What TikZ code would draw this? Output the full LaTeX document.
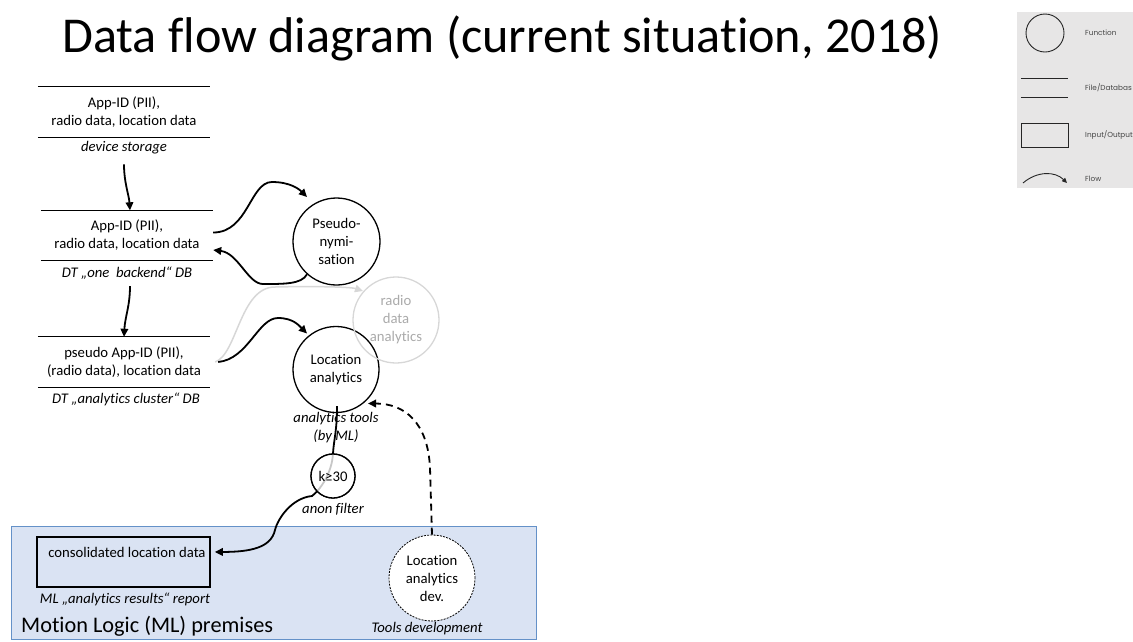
\documentclass[tikz,border=0pt]{standalone}
\usepackage{fontspec}
\setmainfont{Carlito}[Ligatures=NoCommon]
\newfontfamily\legendfont{Poppins}
\usetikzlibrary{arrows.meta}
\definecolor{premisesfill}{RGB}{218,227,243}
\definecolor{premisesline}{RGB}{100,145,200}
\definecolor{legendfill}{RGB}{231,230,230}
\definecolor{faded}{RGB}{215,215,215}
\definecolor{fadedtext}{RGB}{170,170,170}
\definecolor{legendtext}{RGB}{70,70,70}

\begin{document}
\begin{tikzpicture}[x=1pt,y=-1pt,
  txt/.style={inner sep=0pt, align=center, font=\fontsize{14.7}{18}\selectfont},
  itxt/.style={txt, font=\fontsize{14.7}{18}\selectfont\itshape},
  store/.style={txt, minimum width=172pt, minimum height=50pt},
  storeline/.style={line width=1.1pt},
  func/.style={circle, draw, line width=1.3pt, fill=white, inner sep=0pt,
    minimum size=86pt, align=center, font=\fontsize{14.7}{18}\selectfont},
  flow/.style={line width=1.8pt, -{Triangle[length=8pt,width=7.5pt]}},
  fadedflow/.style={flow, draw=faded, line width=1.5pt},
  devflow/.style={flow, dash pattern=on 7pt off 5pt},
  legtxt/.style={inner sep=0pt, font=\legendfont\fontsize{7.3}{8}\selectfont, text=legendtext},
  legshape/.style={line width=0.9pt, draw=black!85}
]
\useasboundingbox (0,0) rectangle (1133,641);

% heading
\node[anchor=base west, inner sep=0pt, font=\fontsize{50.2}{60}\selectfont] (title)
  at (62,52.5) {Data flow diagram (current situation, 2018)};

% data stores
\node[store] (s1) at (124,112) {App-ID (PII),\\radio data, location data};
\draw[storeline] (s1.north west) -- (s1.north east) (s1.south west) -- (s1.south east);
\node[itxt, anchor=base] (s1lab) at (124,151.7) {device storage};

\node[store] (s2) at (127,235.5) {App-ID (PII),\\radio data, location data};
\draw[storeline] (s2.north west) -- (s2.north east) (s2.south west) -- (s2.south east);
\node[itxt, anchor=base] (s2lab) at (127,277) {DT „one~ backend“ DB};

\node[store] (s3) at (124,362) {pseudo App-ID (PII),\\(radio data), location data};
\draw[storeline] (s3.north west) -- (s3.north east) (s3.south west) -- (s3.south east);
\node[itxt, anchor=base] (s3lab) at (126,403) {DT „analytics cluster“ DB};

% premises of Motion Logic
\node[draw=premisesline, fill=premisesfill, line width=0.8pt, minimum width=525pt,
  minimum height=113pt, inner sep=0pt] (prem) at (273.5,583) {};
\node[anchor=base west, inner sep=0pt, font=\fontsize{22.3}{26}\selectfont] (premtitle)
  at (21,632) {Motion Logic (ML) premises};
\node[draw, line width=1.1pt, minimum width=173pt, minimum height=50pt, inner sep=0pt]
  (cons) at (123.5,562) {};
\node[txt, anchor=base, inner xsep=9pt] (constext) at (127,557) {consolidated location data};
\node[itxt, anchor=base] (report) at (125,603.5) {ML „analytics results“ report};

% functions
\node[func, minimum size=87pt] (pseudo) at (336.5,241.5) {Pseudo-\\nymi-\\sation};
\node[func] (loc) at (336,369.5) {Location\\analytics};
\node[func, draw=faded, text=fadedtext, fill=none] (radio) at (396,320) {radio\\data\\analytics};
\node[itxt] (loctools) at (336,428) {analytics tools\\(by ML)};
\node[func, dash pattern=on 2pt off 1.2pt, line width=0.8pt] (dev) at (432,578)
  {Location\\analytics\\dev.};
\node[itxt, anchor=base] (toolsdev) at (427,632) {Tools development};

% flows between stores
\draw[flow] ([shift={(0,10)}]s1lab.south) .. controls +(0,18) and +(-1,-15) ..
  ([xshift=3pt]s2.north);
\draw[flow] ([shift={(3,7)}]s2lab.south) .. controls +(0,20) and +(1,-20) ..
  (s3.north);

% pseudonymisation round trip
\coordinate (toppeak) at (272,182);
\coordinate (botpeak) at (263,284);
\draw[flow] ([yshift=3pt]s2.east) .. controls +(35,0) and +(-22,0) .. (toppeak)
  .. controls +(18,0) and +(-8,-8) .. ([shift={(-29.5,-44.5)}]pseudo.center);
\draw[flow] (pseudo.228) .. controls +(-5,10) and +(20,0) .. (botpeak)
  .. controls +(-15,0) and +(25,3) .. ([yshift=-14.5pt]s2.east);

% analytics flows
\coordinate (radiopeak) at (275,287);
\coordinate (locpeak) at (278,318);
\draw[fadedflow] ([xshift=5pt]s3.east) .. controls +(22,-8) and +(-35,0) .. (radiopeak)
  .. controls +(40,-1) and +(-12,-4) .. ([shift={(-33,-29)}]radio.center);
\draw[flow] ([shift={(8,0)}]s3.east) .. controls +(30,-3) and +(-20,0) .. (locpeak)
  .. controls +(15,0) and +(-8,-8) .. ([shift={(-29,-36)}]loc.center);

% results through the anonymisation filter
\coordinate (kexit) at (312,496);
\coordinate (kbend) at (275,530);
\node[func, minimum size=44pt] (kf) at (333,476) {};
\draw[flow] ([shift={(1,-7)}]loc.south) .. controls +(0,25) and +(1,-15) .. (kf.north)
  .. controls +(-1,20) and +(8,-6) .. (kexit)
  .. controls +(-20,2) and +(3,-12) .. (kbend)
  .. controls +(-4,18) and +(35,0) .. (constext.east);
\node[func, minimum size=44pt, fill opacity=0.78, text opacity=1] (kfilter) at (333,476) {k≥30};
\node[itxt, anchor=base] (anon) at (333,513) {anon filter};

% tool development feeds back into the analytics
\coordinate (devbend) at (430,468);
\draw[devflow] (dev.north) -- (devbend) .. controls +(-2,-45) and +(37,0) ..
  ([shift={(32,34)}]loc.center);

% legend
\begin{scope}
  \clip (1017,12) rectangle (1133,188);
  \node[fill=legendfill, minimum width=116pt, minimum height=176pt, inner sep=0pt]
    (legend) at (1075,100) {};
  \node[circle, legshape, minimum size=38pt, inner sep=0pt] (lgfunc) at (1045,33) {};
  \node[legtxt, anchor=west] (lgfunctxt) at (1085,33) {Function};
  \node[minimum width=47pt, minimum height=18pt, inner sep=0pt] (lgfile) at (1044.5,88) {};
  \draw[legshape] (lgfile.north west) -- (lgfile.north east)
    (lgfile.south west) -- (lgfile.south east);
  \node[legtxt, anchor=west] (lgfiletxt) at (1085,88) {File/Databas};
  \node[legshape, minimum width=47pt, minimum height=24pt, inner sep=0pt] (lgio) at (1044.5,135) {};
  \node[legtxt, anchor=west] (lgiotxt) at (1085,135) {Input/Output};
  \coordinate (lgflowa) at (1023,183);
  \coordinate (lgflowb) at (1067,183);
  \draw[legshape, -{Triangle[length=5pt,width=4.5pt]}] (lgflowa)
    .. controls +(14,-12) and +(-12,-12) .. (lgflowb);
  \node[legtxt, anchor=west] (lgflowtxt) at (1085,179) {Flow};
\end{scope}
\end{tikzpicture}
\end{document}
